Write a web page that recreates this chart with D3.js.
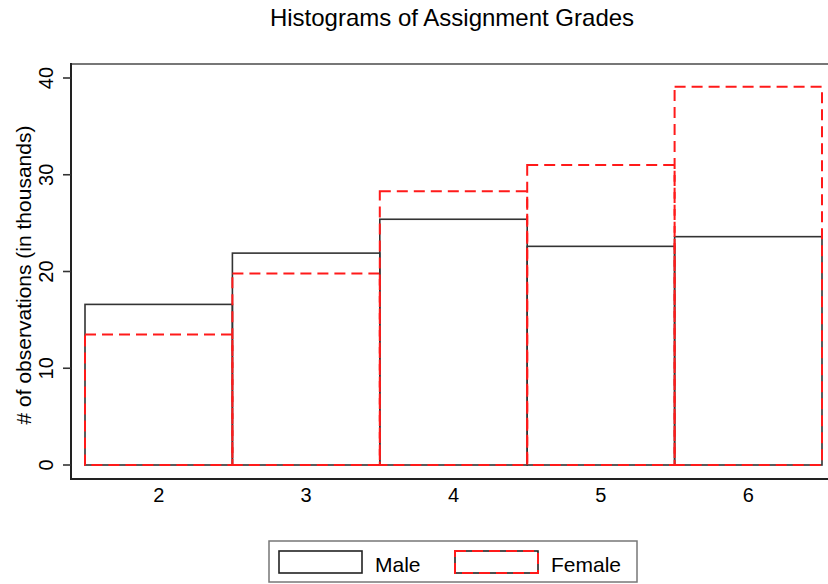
<!DOCTYPE html>
<html>
<head>
<meta charset="utf-8">
<script src="https://cdn.jsdelivr.net/npm/d3@7"></script>
<style>
  body { margin: 0; background: #fff; }
  svg { font-family: "Liberation Sans", Arial, Helvetica, sans-serif; }
</style>
</head>
<body>
<div id="chart"></div>
<script>
// -------------------- Data --------------------
const grades = [2, 3, 4, 5, 6];
const maleCounts = [16.6, 21.9, 25.4, 22.6, 23.6];
const femaleCounts = [13.5, 19.8, 28.3, 31.0, 39.1];
const yTicks = [0, 10, 20, 30, 40];
const seriesNames = ["Male", "Female"];

// -------------------- SVG container --------------------
const width = 828, height = 584;
const svg = d3.select("#chart")
  .append("svg")
  .attr("width", width)
  .attr("height", height);

const frame = { left: 71, top: 64, right: 840, bottom: 479 };

const x = d3.scaleLinear().domain([1.5, 6.5]).range([85, 822]);
const y = d3.scaleLinear().domain([0, 40]).range([465, 78]);

// plot frame (top line gray, left/bottom dark)
svg.append("line")
  .attr("x1", frame.left).attr("x2", frame.right)
  .attr("y1", frame.top).attr("y2", frame.top)
  .attr("stroke", "#777").attr("stroke-width", 2);

// -------------------- Bars --------------------
svg.append("g")
  .selectAll("rect")
  .data(grades)
  .join("rect")
  .attr("x", d => x(d - 0.5))
  .attr("width", d => x(d + 0.5) - x(d - 0.5))
  .attr("y", (d, i) => y(maleCounts[i]))
  .attr("height", (d, i) => y(0) - y(maleCounts[i]))
  .attr("fill", "none")
  .attr("stroke", "#333")
  .attr("stroke-width", 1.6);

svg.append("g")
  .selectAll("rect")
  .data(grades)
  .join("rect")
  .attr("x", d => x(d - 0.5))
  .attr("width", d => x(d + 0.5) - x(d - 0.5))
  .attr("y", (d, i) => y(femaleCounts[i]))
  .attr("height", (d, i) => y(0) - y(femaleCounts[i]))
  .attr("fill", "none")
  .attr("stroke", "#ff1a1a")
  .attr("stroke-width", 2)
  .attr("stroke-dasharray", "11,6");

// -------------------- Axes --------------------
svg.append("line")
  .attr("x1", frame.left).attr("x2", frame.left)
  .attr("y1", frame.top - 1).attr("y2", frame.bottom + 1)
  .attr("stroke", "#222").attr("stroke-width", 2);
svg.append("line")
  .attr("x1", frame.left - 1).attr("x2", frame.right)
  .attr("y1", frame.bottom).attr("y2", frame.bottom)
  .attr("stroke", "#222").attr("stroke-width", 2);

const yAxis = svg.append("g");
yAxis.selectAll("line")
  .data(yTicks)
  .join("line")
  .attr("x1", frame.left - 8).attr("x2", frame.left)
  .attr("y1", d => y(d)).attr("y2", d => y(d))
  .attr("stroke", "#333").attr("stroke-width", 1.6);
yAxis.selectAll("text")
  .data(yTicks)
  .join("text")
  .attr("transform", d => `translate(53,${y(d)}) rotate(-90)`)
  .attr("text-anchor", "middle")
  .style("font-size", "20px")
  .text(d => d);

svg.append("text")
  .attr("transform", `translate(31,275) rotate(-90)`)
  .attr("text-anchor", "middle")
  .style("font-size", "21px")
  .text("# of observations (in thousands)");

svg.append("g")
  .selectAll("text")
  .data(grades)
  .join("text")
  .attr("x", d => x(d))
  .attr("y", 502)
  .attr("text-anchor", "middle")
  .style("font-size", "20px")
  .text(d => d);

// -------------------- Title --------------------
svg.append("text")
  .attr("x", 452)
  .attr("y", 26)
  .attr("text-anchor", "middle")
  .style("font-size", "24px")
  .text("Histograms of Assignment Grades");

// -------------------- Legend --------------------
const legend = svg.append("g");
legend.append("rect")
  .attr("x", 269).attr("y", 541)
  .attr("width", 368).attr("height", 41)
  .attr("fill", "#fff")
  .attr("stroke", "#777").attr("stroke-width", 1.5);

const legendX = [279, 455];
legend.selectAll("rect.sw")
  .data(seriesNames)
  .join("rect")
  .attr("class", "sw")
  .attr("x", (d, i) => legendX[i])
  .attr("y", 551)
  .attr("width", 83).attr("height", 22)
  .attr("fill", "none")
  .attr("stroke", "#222")
  .attr("stroke-width", 1.6);
legend.append("rect")
  .attr("x", legendX[1]).attr("y", 551)
  .attr("width", 83).attr("height", 22)
  .attr("fill", "none")
  .attr("stroke", "#ff1a1a")
  .attr("stroke-width", 2)
  .attr("stroke-dasharray", "11,6");
legend.selectAll("text")
  .data(seriesNames)
  .join("text")
  .attr("x", (d, i) => legendX[i] + 96)
  .attr("y", 572)
  .style("font-size", "21px")
  .text(d => d);
</script>
</body>
</html>
